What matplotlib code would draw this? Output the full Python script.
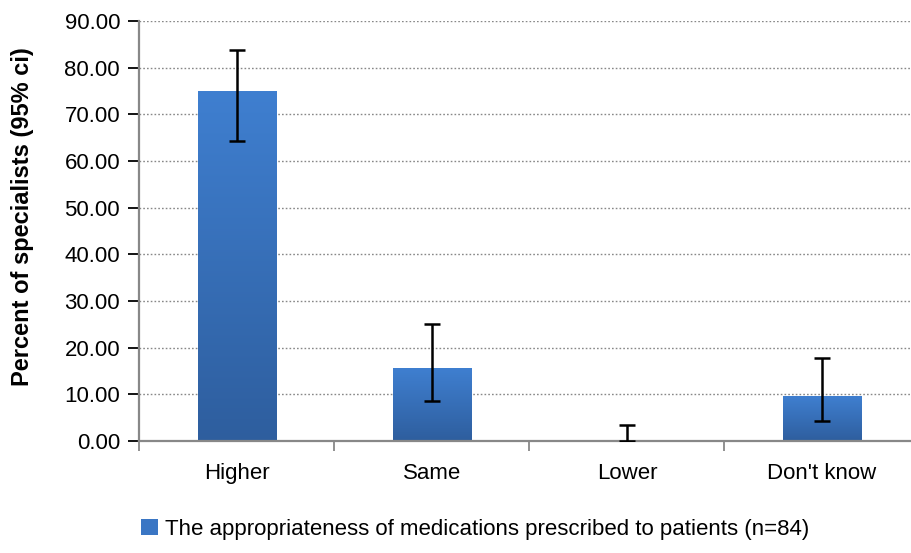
import matplotlib.pyplot as plt
import numpy as np
from matplotlib.colors import LinearSegmentedColormap

# Data
categories = ["Higher", "Same", "Lower", "Don't know"]
values = [75.00, 15.48, 0.00, 9.52]
ci_low = [64.3, 8.5, 0.0, 4.2]
ci_high = [83.8, 25.0, 3.5, 17.8]
series_label = "The appropriateness of medications prescribed to patients (n=84)"

plt.rcParams['font.family'] = ['Liberation Sans', 'DejaVu Sans']

fig = plt.figure(figsize=(9.12, 5.53), dpi=100)
ax = fig.add_axes([139.5 / 912, 112 / 553, 780 / 912, 420 / 553])

x = np.arange(len(categories))
width = 0.405
yerr = [np.array(values) - np.array(ci_low), np.array(ci_high) - np.array(values)]

# bars with a vertical gradient
cmap = LinearSegmentedColormap.from_list("bar", ["#2E5E9E", "#3F7FD0"])
grad = np.linspace(0, 1, 256).reshape(-1, 1)
bars = ax.bar(x, values, width, color="#3A76C4", zorder=2, label=series_label)
for b in bars:
    h = b.get_height()
    if h <= 0:
        continue
    x0 = b.get_x()
    ax.imshow(grad, cmap=cmap, aspect="auto", origin="lower",
              extent=[x0, x0 + b.get_width(), 0, h], zorder=2.5)

ax.errorbar(x, values, yerr=yerr, fmt="none", ecolor="black", elinewidth=1.8,
            capsize=6, capthick=1.8, zorder=4)

ax.set_xlim(-0.5, 3.5)
ax.set_ylim(0, 90)
ax.set_yticks(np.arange(0, 91, 10))
ax.set_yticklabels([f"{v:.2f}" for v in np.arange(0, 91, 10)])
ax.set_xticks(x)
ax.set_xticklabels(categories)
ax.set_xticks(np.arange(-0.5, 3.6, 1), minor=True)
ax.tick_params(axis="x", which="major", length=0, pad=16)
ax.tick_params(axis="x", which="minor", length=7, color="#888888", width=1.3)
ax.tick_params(axis="y", length=8, color="#888888", width=1.3, pad=6)
ax.tick_params(labelsize=16, colors="black")

ax.yaxis.grid(True, linestyle=(0, (1.2, 1.5)), color="#888888", linewidth=1.0, zorder=0)
ax.set_axisbelow(True)
for s in ["top", "right"]:
    ax.spines[s].set_visible(False)
for s in ["left", "bottom"]:
    ax.spines[s].set_color("#888888")
    ax.spines[s].set_linewidth(1.6)

ax.set_ylabel("Percent of specialists (95% ci)", fontsize=17, fontweight="bold")
ax.yaxis.set_label_coords(-0.135, 0.535)

handles, labels = ax.get_legend_handles_labels()
fig.legend(handles, labels, loc="center", bbox_to_anchor=(475 / 912, 1 - 529 / 553),
           frameon=False, fontsize=16, handlelength=0.75, handleheight=0.75,
           handletextpad=0.3)

plt.savefig("out.png", dpi=100)
